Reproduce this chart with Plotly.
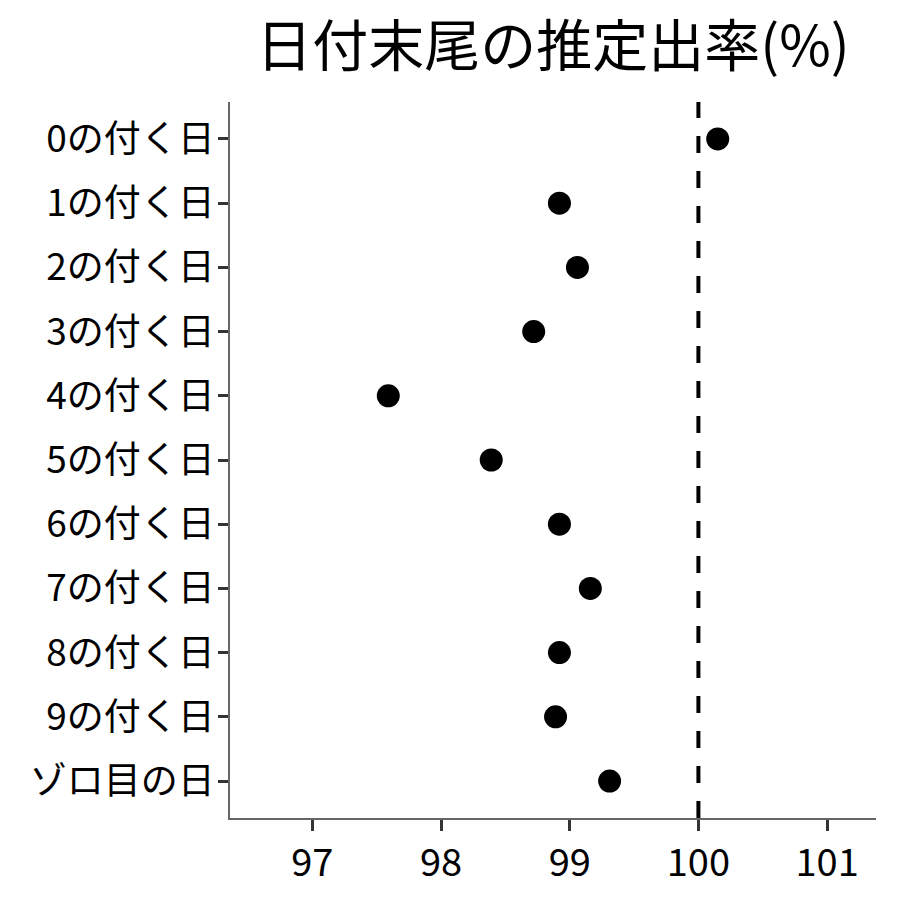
import plotly.graph_objects as go

categories = ["0の付く日", "1の付く日", "2の付く日", "3の付く日", "4の付く日",
              "5の付く日", "6の付く日", "7の付く日", "8の付く日", "9の付く日", "ゾロ目の日"]
rates = [100.15, 98.92, 99.06, 98.72, 97.59, 98.39, 98.92, 99.16, 98.92, 98.89, 99.31]
x_ticks = [97, 98, 99, 100, 101]
ref_value = 100

FONT = "Noto Sans CJK JP"

fig = go.Figure()
fig.add_trace(go.Scatter(
    x=rates, y=categories, mode="markers",
    marker=dict(color="black", size=23),
    showlegend=False,
))
fig.add_shape(type="line", x0=ref_value, x1=ref_value, xref="x", y0=0, y1=1, yref="paper",
              line=dict(color="black", width=4, dash="17px,18px"))

fig.update_layout(
    width=900, height=900,
    paper_bgcolor="white", plot_bgcolor="white",
    margin=dict(l=222, r=32, t=94, b=90),
    font=dict(family=FONT, color="black"),
    title=dict(text="日付末尾の推定出率(%)", x=0.5, xref="paper", xanchor="center",
               y=0.957, yref="container", yanchor="middle",
               font=dict(family=FONT, size=56, color="black")),
)
fig.update_xaxes(
    range=[96.36, 101.38], tickvals=x_ticks, ticktext=[str(v) for v in x_ticks],
    showgrid=False, zeroline=False, showline=True, linecolor="#666666", linewidth=1.5,
    ticks="outside", ticklen=11, tickwidth=3, tickcolor="#333333",
    tickfont=dict(family=FONT, size=38, color="black"),
)
fig.update_yaxes(
    type="category", categoryorder="array", categoryarray=categories,
    range=[10.576, -0.576],
    showgrid=False, zeroline=False, showline=True, linecolor="#666666", linewidth=1.5,
    ticks="outside", ticklen=10, tickwidth=3, tickcolor="#333333",
    ticklabelstandoff=-4,
    tickfont=dict(family=FONT, size=37, color="black"),
)

fig.write_html("out.html")
